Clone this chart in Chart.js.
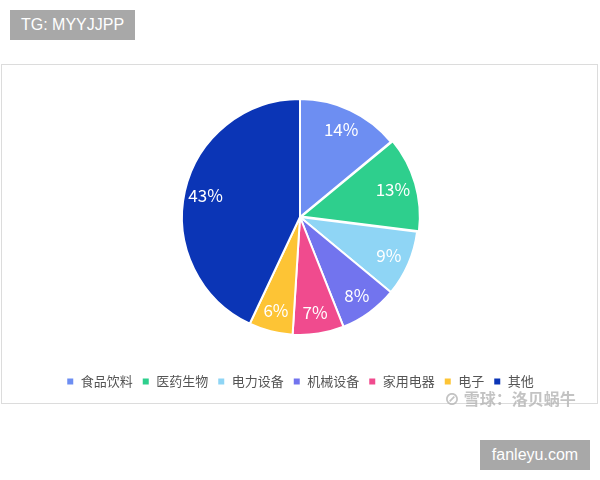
<!DOCTYPE html>
<html>
<head>
<meta charset="utf-8">
<script src="https://cdn.jsdelivr.net/npm/chart.js@4.4.0/dist/chart.umd.min.js"></script>
<style>
  html, body { margin: 0; padding: 0; background: #fff; }
  #wrap { position: relative; width: 600px; height: 480px; overflow: hidden; }
  #frame { position: absolute; left: 1px; top: 64px; width: 595px; height: 338px; border: 1px solid #dcdcdc; }
  #chart { position: absolute; left: 0; top: 0; }
  .tag { position: absolute; background: #a8a8a8; color: #fff; font-family: "Liberation Sans", Arial, sans-serif; font-size: 16px; line-height: 30px; text-align: center; }
  #tg { left: 10px; top: 10px; width: 125px; height: 30px; }
  #site { left: 480px; top: 440px; width: 110px; height: 30px; }
  #mark { position: absolute; left: 444px; top: 389px; color: rgba(180,180,180,0.8); font-family: "Noto Sans CJK SC", sans-serif; font-weight: bold; font-size: 16px; line-height: 18px; white-space: nowrap; }
</style>
</head>
<body>
<div id="wrap">
  <div id="frame"></div>
  <canvas id="chart" width="600" height="480"></canvas>
  <div id="mark">⊘ 雪球：洛贝蜗牛</div>
  <div class="tag" id="tg">TG: MYYJJPP</div>
  <div class="tag" id="site">fanleyu.com</div>
</div>
<script>
// Sector shares (%)
const sectors = ['食品饮料', '医药生物', '电力设备', '机械设备', '家用电器', '电子', '其他'];
const shares = [14, 13, 9, 8, 7, 6, 43];
const sliceColors = ['#6d8ef2', '#2ecf8d', '#8fd5f5', '#7274ee', '#f04b8e', '#fdc435', '#0b35b6'];
const sliceOffsets = [0, 6, 0, 0, 0, 0, 0];

// Draw the % text inside each slice
const pctLabels = {
    id: 'pctLabels',
    afterDatasetsDraw(chart) {
        const ctx = chart.ctx;
        const meta = chart.getDatasetMeta(0);
        ctx.save();
        ctx.fillStyle = '#ffffff';
        ctx.font = '17px "Noto Sans CJK SC", "DejaVu Sans", sans-serif';
        ctx.textAlign = 'center';
        ctx.textBaseline = 'middle';
        meta.data.forEach((arc, i) => {
            const p = arc.getProps(['x', 'y', 'startAngle', 'endAngle', 'outerRadius']);
            const mid = (p.startAngle + p.endAngle) / 2;
            const r = p.outerRadius * 0.82;
            ctx.fillText(shares[i] + '%', p.x + Math.cos(mid) * r, p.y + Math.sin(mid) * r);
        });
        ctx.restore();
    }
};

const ctx = document.getElementById('chart').getContext('2d');
const chart = new Chart(ctx, {
    type: 'pie',
    data: {
        labels: sectors,
        datasets: [{
            data: shares,
            backgroundColor: sliceColors,
            borderColor: '#ffffff',
            borderWidth: 2,
            offset: sliceOffsets,
        }],
    },
    options: {
        responsive: false,
        animation: false,
        radius: 118,
        layout: { padding: { top: 68, bottom: 82, left: 0, right: 0 } },
        plugins: {
            legend: {
                position: 'bottom',
                labels: {
                    boxWidth: 8,
                    boxHeight: 8,
                    padding: 9,
                    color: '#555555',
                    font: { size: 13, family: '"Noto Sans CJK SC", sans-serif' },
                },
            },
            tooltip: { enabled: false },
        },
    },
    plugins: [pctLabels],
});
</script>
</body>
</html>
